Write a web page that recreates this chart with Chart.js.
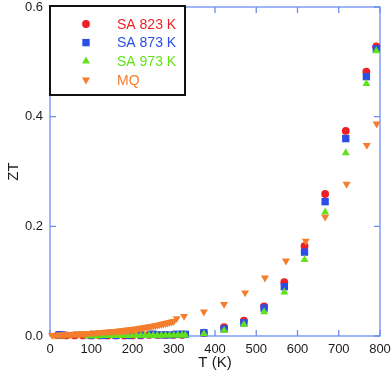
<!DOCTYPE html>
<html>
<head>
<meta charset="utf-8">
<script src="https://cdn.jsdelivr.net/npm/chart.js@4.4.1/dist/chart.umd.min.js"></script>
<style>
  html, body { margin: 0; padding: 0; background: #fff; }
  #wrap { width: 392px; height: 376px; position: relative; }
</style>
</head>
<body>
<div id="wrap"><canvas id="ztChart" width="392" height="376"></canvas></div>
<script>
const FONT = '"Liberation Sans", Arial, Helvetica, sans-serif';
const AXIS_COLOR = '#6e8ef0';
const TEXT_COLOR = '#1c1c1c';
const TICK_LEN = 6;

const seriesNames = ['SA 823 K', 'SA 873 K', 'SA 973 K', 'MQ'];
const seriesColors = ['#ee1f26', '#2b4fe6', '#62e21c', '#f47d2e'];
const xTickLabels = ['0', '100', '200', '300', '400', '500', '600', '700', '800'];
const yTickLabels = ['0.0', '0.2', '0.4', '0.6'];
const xTitle = 'T (K)';
const yTitle = 'ZT';

// SA 823 K (red circles)
const sa823T = [20, 25, 40, 60, 80, 100, 120, 140, 160, 180, 200, 220, 240, 260, 280, 300, 320,
  373, 422, 470, 519, 568, 617, 667, 717, 767, 791];
const sa823ZT = [0.002, 0.002, 0.001, 0.001, 0.001, 0.001, 0.001, 0.001, 0.001, 0.001,
  0.001, 0.001, 0.002, 0.002, 0.002, 0.002, 0.002,
  0.006, 0.016, 0.028, 0.054, 0.098, 0.164, 0.259, 0.374, 0.482, 0.528];

// SA 873 K (blue squares)
const sa873T = [22, 28, 100, 130, 160, 190, 220, 245, 250, 270, 290, 310, 320, 328,
  373, 422, 470, 519, 568, 617, 667, 717, 767, 791];
const sa873ZT = [0.002, 0.002, 0.001, 0.001, 0.001, 0.001, 0.002, 0.003, 0.003, 0.002,
  0.002, 0.003, 0.003, 0.003,
  0.006, 0.013, 0.024, 0.051, 0.090, 0.153, 0.245, 0.360, 0.473, 0.524];

// SA 973 K (green triangles)
const sa973T = [90, 100, 110, 120, 130, 140, 150, 160, 170, 180, 190, 200, 210, 220,
  230, 240, 250, 260, 270, 280, 290, 300, 310, 320, 328,
  373, 422, 470, 519, 568, 617, 667, 717, 767, 791];
const sa973ZT = [0.0003, 0.0003, 0.0003, 0.0003, 0.0005, 0.0005, 0.0005, 0.0005, 0.0005,
  0.0007, 0.0007, 0.0008, 0.001, 0.001, 0.001, 0.001, 0.0012, 0.0012, 0.0012, 0.0013,
  0.0013, 0.0014, 0.0015, 0.0015, 0.0015,
  0.004, 0.010, 0.021, 0.044, 0.080, 0.139, 0.226, 0.334, 0.460, 0.520];

// MQ (orange down triangles)
const mqT = [5, 10, 15, 20, 25, 30, 35, 40, 45, 50, 55, 60, 65, 70, 75, 80, 85, 90, 95,
  100, 105, 110, 115, 120, 125, 130, 135, 140, 145, 150, 155, 160, 165, 170, 175, 180,
  185, 190, 195, 200, 205, 210, 215, 220, 225, 230, 235, 240, 245, 250, 255, 260, 265,
  270, 275, 280, 285, 290, 295, 300,
  307, 325, 373, 422, 473, 521, 572, 620, 667, 719, 768, 792];
const mqZT = [0.0015, 0.0015, 0.0017, 0.0018, 0.002, 0.0022, 0.0024, 0.0026, 0.0028, 0.003,
  0.0032, 0.0034, 0.0036, 0.0038, 0.004, 0.0042, 0.0044, 0.0046, 0.0048, 0.005,
  0.0053, 0.0056, 0.0059, 0.0062, 0.0065, 0.0068, 0.0071, 0.0074, 0.0077, 0.008,
  0.0083, 0.0087, 0.0091, 0.0095, 0.0099, 0.0103, 0.0107, 0.0111, 0.0116, 0.0121,
  0.0126, 0.0131, 0.0137, 0.0143, 0.0149, 0.0155, 0.0161, 0.0168, 0.0175, 0.0182,
  0.0189, 0.0197, 0.0205, 0.0213, 0.0221, 0.023, 0.0239, 0.0249, 0.0259, 0.027,
  0.032, 0.036, 0.044, 0.058, 0.079, 0.106, 0.137, 0.173, 0.217, 0.277, 0.348, 0.387];

const markerStyles = [
  { pointStyle: 'circle', radius: 3.9, rotation: 0 },
  { pointStyle: 'rect', radius: 5.2, rotation: 0 },
  { pointStyle: 'triangle', radius: 4.6, rotation: 0 },
  { pointStyle: 'triangle', radius: 4.6, rotation: 180 },
];

function toPoints(xs, ys) {
  return xs.map((x, i) => ({ x, y: ys[i] }));
}

function buildDataset(idx, xs, ys) {
  const m = markerStyles[idx];
  return {
    label: seriesNames[idx],
    data: toPoints(xs, ys),
    pointStyle: m.pointStyle,
    pointRadius: m.radius,
    pointRotation: m.rotation,
    pointBackgroundColor: seriesColors[idx],
    pointBorderColor: seriesColors[idx],
    pointBorderWidth: 0,
    pointHoverRadius: m.radius,
    showLine: false,
    clip: false,
    // lower order is drawn on top: MQ over green over blue over red
    order: 3 - idx,
  };
}

function drawMarker(ctx, style, x, y) {
  ctx.beginPath();
  if (style.pointStyle === 'circle') {
    ctx.arc(x, y, style.radius, 0, Math.PI * 2);
  } else if (style.pointStyle === 'rect') {
    const s = Math.SQRT1_2 * style.radius;
    ctx.rect(x - s, y - s, 2 * s, 2 * s);
  } else {
    let rad = style.rotation * Math.PI / 180;
    const r = style.radius;
    ctx.moveTo(x + Math.sin(rad) * r, y - Math.cos(rad) * r);
    rad += 2 * Math.PI / 3;
    ctx.lineTo(x + Math.sin(rad) * r, y - Math.cos(rad) * r);
    rad += 2 * Math.PI / 3;
    ctx.lineTo(x + Math.sin(rad) * r, y - Math.cos(rad) * r);
    ctx.closePath();
  }
  ctx.fill();
}

const framePlugin = {
  id: 'frame',
  beforeDatasetsDraw(chart) {
    const { ctx, chartArea: a, scales: { x, y } } = chart;
    ctx.save();
    ctx.strokeStyle = AXIS_COLOR;
    ctx.lineWidth = 1.3;
    ctx.strokeRect(a.left, a.top, a.right - a.left, a.bottom - a.top);
    ctx.beginPath();
    x.ticks.forEach((t) => {
      const px = x.getPixelForValue(t.value);
      ctx.moveTo(px, a.bottom);
      ctx.lineTo(px, a.bottom - TICK_LEN);
      ctx.moveTo(px, a.top);
      ctx.lineTo(px, a.top + TICK_LEN);
    });
    y.ticks.forEach((t) => {
      const py = y.getPixelForValue(t.value);
      ctx.moveTo(a.left, py);
      ctx.lineTo(a.left + TICK_LEN, py);
      ctx.moveTo(a.right, py);
      ctx.lineTo(a.right - TICK_LEN, py);
    });
    ctx.stroke();
    ctx.restore();
  },
};

const legendBoxPlugin = {
  id: 'legendBox',
  afterDatasetsDraw(chart) {
    const { ctx, chartArea: a } = chart;
    const box = { left: a.left, top: a.top - 1, width: 135, height: 89 };
    ctx.save();
    ctx.fillStyle = '#fff';
    ctx.fillRect(box.left, box.top, box.width, box.height);
    ctx.strokeStyle = '#111';
    ctx.lineWidth = 2;
    ctx.strokeRect(box.left, box.top, box.width, box.height);
    ctx.font = '14px ' + FONT;
    ctx.textBaseline = 'middle';
    ctx.textAlign = 'left';
    seriesNames.forEach((name, i) => {
      const rowY = box.top + 18 + i * 18.6;
      ctx.fillStyle = seriesColors[i];
      drawMarker(ctx, markerStyles[i], box.left + 36, rowY);
      ctx.fillText(name, box.left + 67, rowY + 1);
    });
    ctx.restore();
  },
};

const datasets = [
  buildDataset(0, sa823T, sa823ZT),
  buildDataset(1, sa873T, sa873ZT),
  buildDataset(2, sa973T, sa973ZT),
  buildDataset(3, mqT, mqZT),
];

new Chart(document.getElementById('ztChart'), {
  type: 'scatter',
  data: { datasets },
  plugins: [framePlugin, legendBoxPlugin],
  options: {
    responsive: false,
    animation: false,
    devicePixelRatio: 1,
    layout: { padding: { left: 0, right: 12, top: 7, bottom: 0 } },
    plugins: {
      legend: { display: false },
      tooltip: { enabled: false },
    },
    scales: {
      x: {
        type: 'linear',
        min: 0,
        max: 800,
        grid: { display: false, drawTicks: false },
        border: { display: false },
        ticks: {
          stepSize: 100,
          autoSkip: false,
          maxRotation: 0,
          padding: 6,
          color: TEXT_COLOR,
          font: { family: FONT, size: 13 },
          callback: (value, i) => xTickLabels[i],
        },
        title: {
          display: true,
          text: xTitle,
          color: TEXT_COLOR,
          font: { family: FONT, size: 15 },
          padding: { top: 0, bottom: 4 },
        },
        afterFit: (scale) => {
          scale.height = 40;
          scale.paddingLeft = 0;
          scale.paddingRight = 0;
        },
      },
      y: {
        type: 'linear',
        min: 0,
        max: 0.6,
        grid: { display: false, drawTicks: false },
        border: { display: false },
        ticks: {
          stepSize: 0.2,
          padding: 7,
          color: TEXT_COLOR,
          font: { family: FONT, size: 13 },
          callback: (value, i) => yTickLabels[i],
        },
        title: {
          display: true,
          text: yTitle,
          color: TEXT_COLOR,
          font: { family: FONT, size: 15 },
          padding: { top: 5, bottom: 0 },
        },
        afterFit: (scale) => {
          scale.width = 50;
          scale.paddingTop = 0;
          scale.paddingBottom = 0;
        },
      },
    },
  },
});
</script>
</body>
</html>
